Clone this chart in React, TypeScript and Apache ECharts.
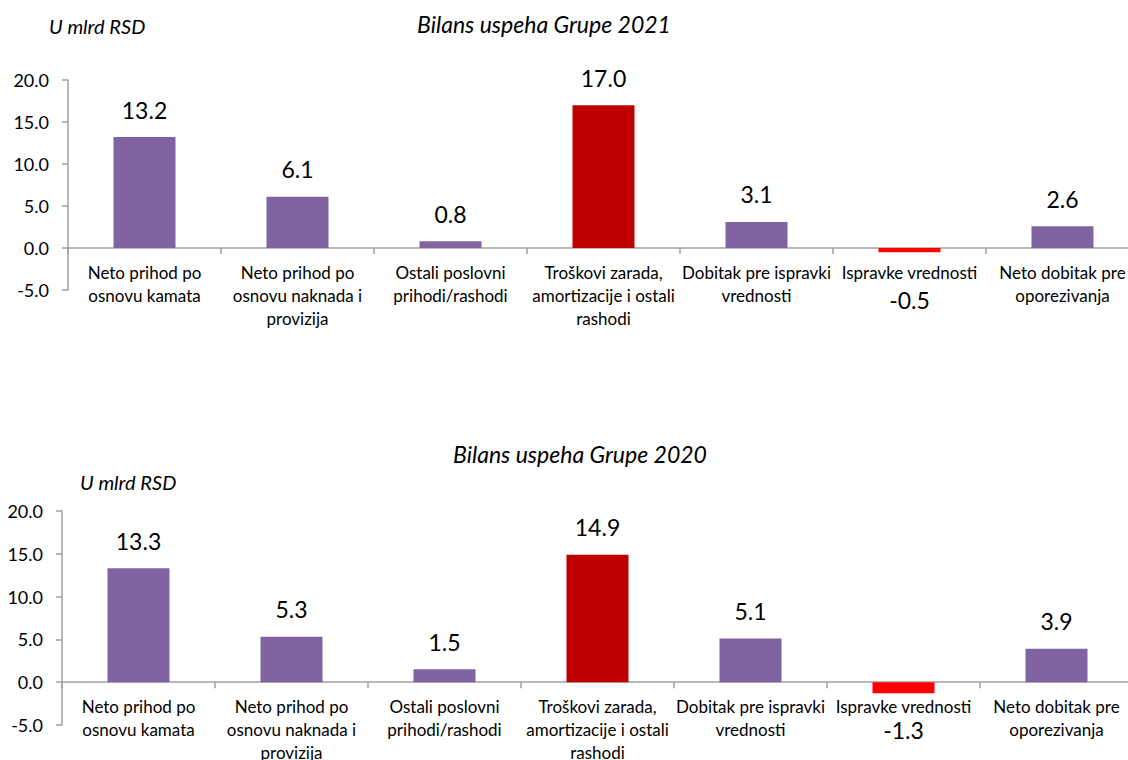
import React, { useEffect, useRef } from "react";
import * as echarts from "echarts";

const categories = [
  "Neto prihod po\nosnovu kamata",
  "Neto prihod po\nosnovu naknada i\nprovizija",
  "Ostali poslovni\nprihodi/rashodi",
  "Troškovi zarada,\namortizacije i ostali\nrashodi",
  "Dobitak pre ispravki\nvrednosti",
  "Ispravke vrednosti",
  "Neto dobitak pre\noporezivanja",
];
const values2021 = [13.2, 6.1, 0.8, 17.0, 3.1, -0.5, 2.6];
const values2020 = [13.3, 5.3, 1.5, 14.9, 5.1, -1.3, 3.9];
const barColors = ["#8064A2", "#8064A2", "#8064A2", "#C00000", "#8064A2", "#FF0000", "#8064A2"];
const title2021 = "Bilans uspeha Grupe 2021";
const title2020 = "Bilans uspeha Grupe 2020";
const unitLabel = "U mlrd RSD";
const yMin = -5;
const yMax = 20;
const yStep = 5;

const FONT = "Lato, 'Open Sans', sans-serif";
const AXIS_GRAY = "#A0A0A0";

function buildData(vals: number[], negDist: number) {
  return vals.map((v, i) => ({
    value: v,
    itemStyle: { color: barColors[i] },
    label: v < 0 ? { position: "bottom", distance: negDist } : { position: "top", distance: 16 },
  }));
}

export default function App() {
  const ref = useRef<HTMLDivElement>(null);
  useEffect(() => {
    if (!ref.current) return;
    const chart = echarts.init(ref.current, undefined, { renderer: "svg" });
    const xAxisBase = (gi: number, labelMargin: number) => ({
      type: "category",
      gridIndex: gi,
      data: categories,
      axisLine: { onZero: true, lineStyle: { color: AXIS_GRAY, width: 1.5 } },
      axisTick: { show: true, length: 6, alignWithLabel: false, lineStyle: { color: AXIS_GRAY, width: 1.5 } },
      axisLabel: {
        interval: 0,
        margin: labelMargin,
        color: "#000",
        fontFamily: FONT,
        fontSize: 17,
        lineHeight: 23,
      },
      splitLine: { show: false },
    });
    const yAxisBase = (gi: number) => ({
      type: "value",
      gridIndex: gi,
      min: yMin,
      max: yMax,
      interval: yStep,
      axisLine: { show: true, lineStyle: { color: AXIS_GRAY, width: 1.5 } },
      axisTick: { show: true, length: 6, lineStyle: { color: AXIS_GRAY, width: 1.5 } },
      axisLabel: {
        color: "#000",
        fontFamily: FONT,
        fontSize: 18,
        margin: 19,
        formatter: (v: number) => v.toFixed(1),
      },
      splitLine: { show: false },
    });
    const labelBase = {
      show: true,
      color: "#000",
      fontFamily: FONT,
      fontSize: 23,
      formatter: (p: any) => Number(p.value).toFixed(1),
    };
    const titleStyle = (size: number) => ({
      fontFamily: FONT,
      fontStyle: "italic",
      fontWeight: "normal",
      fontSize: size,
      color: "#000",
    });
    chart.setOption({
      animation: false,
      backgroundColor: "#fff",
      title: [
        { text: title2021, left: 539, top: 7, textAlign: "center", textStyle: titleStyle(23) },
        { text: unitLabel, left: 44, top: 11, textStyle: titleStyle(20) },
        { text: title2020, left: 575, top: 437, textAlign: "center", textStyle: titleStyle(23) },
        { text: unitLabel, left: 75, top: 467, textStyle: titleStyle(20) },
      ],
      grid: [
        { left: 68, top: 80, width: 1071, height: 210, containLabel: false, outerBoundsMode: "none" },
        { left: 62, top: 511, width: 1071, height: 214, containLabel: false, outerBoundsMode: "none" },
      ],
      xAxis: [xAxisBase(0, -29), xAxisBase(1, -30)],
      yAxis: [yAxisBase(0), yAxisBase(1)],
      series: [
        {
          type: "bar",
          xAxisIndex: 0,
          yAxisIndex: 0,
          barWidth: 62,
          data: buildData(values2021, 36),
          label: labelBase,
        },
        {
          type: "bar",
          xAxisIndex: 1,
          yAxisIndex: 1,
          barWidth: 62,
          data: buildData(values2020, 25),
          label: labelBase,
        },
      ],
    });
    return () => chart.dispose();
  }, []);
  return (
    <div
      ref={ref}
      style={{ position: "fixed", left: 0, top: 0, width: 1128, height: 760, background: "#fff" }}
    />
  );
}
